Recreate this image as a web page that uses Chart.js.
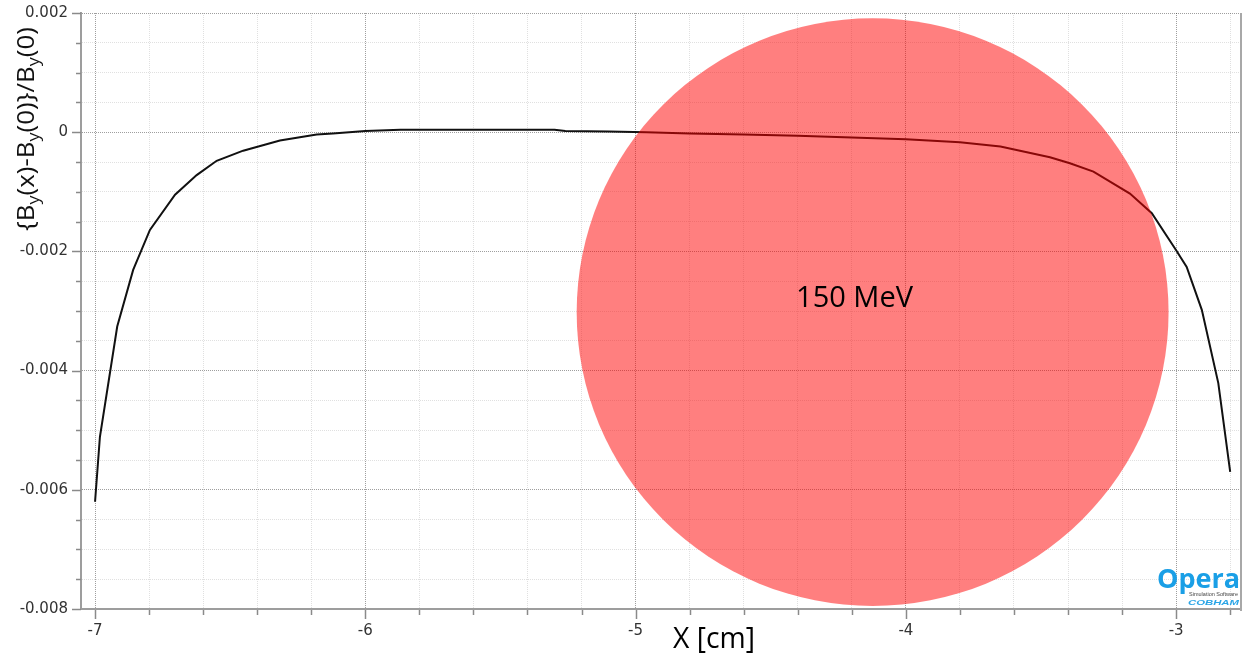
<!DOCTYPE html>
<html><head><meta charset="utf-8">
<script src="https://cdn.jsdelivr.net/npm/chart.js@4/dist/chart.umd.min.js"></script>
<style>html,body{margin:0;padding:0;background:#fff;overflow:hidden}#wrap{width:1247px;height:655px;position:relative}canvas{display:block}</style>
</head><body><div id="wrap"><canvas id="c" width="1247" height="655"></canvas></div>
<script>
// ---- data ----
const xValues = [-7.0, -6.982, -6.918, -6.859, -6.797, -6.704, -6.624, -6.55, -6.452, -6.316, -6.18, -6.12, -6.0, -5.87, -5.62, -5.3, -5.26, -5.1, -4.96, -4.8, -4.6, -4.4, -4.2, -4.0, -3.8, -3.65, -3.467, -3.393, -3.306, -3.171, -3.09, -3.0, -2.961, -2.905, -2.844, -2.8];
const yValues = [-0.0062, -0.00511, -0.00326, -0.00231, -0.00164, -0.00105, -0.00072, -0.00048, -0.00031, -0.00014, -0.00004, -0.00002, 0.00002, 0.00004, 0.00004, 0.00004, 0.00002, 0.00001, 0.0, -0.00002, -0.00004, -0.00006, -0.00009, -0.00012, -0.00017, -0.00024, -0.00042, -0.00052, -0.00066, -0.00103, -0.00136, -0.00198, -0.00226, -0.00298, -0.00421, -0.0057];
const xTickValues = [-7, -6.8, -6.6, -6.4, -6.2, -6, -5.8, -5.6, -5.4, -5.2, -5, -4.8, -4.6, -4.4, -4.2, -4, -3.8, -3.6, -3.4, -3.2, -3, -2.8];
const xMajorTicks = [-7, -6, -5, -4, -3];
const xMajorLabels = ['-7', '-6', '-5', '-4', '-3'];
const yTickValues = [0.002, 0.0015, 0.001, 0.0005, 0, -0.0005, -0.001, -0.0015, -0.002, -0.0025, -0.003, -0.0035, -0.004, -0.0045, -0.005, -0.0055, -0.006, -0.0065, -0.007, -0.0075, -0.008];
const yMajorTicks = [0.002, 0, -0.002, -0.004, -0.006, -0.008];
const yMajorLabels = ['0.002', '0', '-0.002', '-0.004', '-0.006', '-0.008'];
const circleCenter = [-4.123, -0.00302];
const circleRadius = [1.095, 0.00493];
const circleLabel = '150 MeV';
const circleLabelPos = [-4.19, -0.00293];
const xTitle = 'X [cm]';
const yTitleParts = [['{B', 0], ['y', 1], ['(x)-B', 0], ['y', 1], ['(0)}/B', 0], ['y', 1], ['(0)', 0]];

// ---- helpers ----
function findIdx(arr, v, tol) { for (let i = 0; i < arr.length; i++) if (Math.abs(arr[i] - v) < tol) return i; return -1; }
const isXMajor = v => findIdx(xMajorTicks, v, 1e-6) >= 0;
const isYMajor = v => findIdx(yMajorTicks, v, 1e-9) >= 0;

const points = xValues.map((x, i) => ({ x: x, y: yValues[i] }));

const decor = {
  id: 'decor',
  afterDatasetsDraw(chart) {
    const { ctx, scales: { x, y } } = chart;
    const cx = x.getPixelForValue(circleCenter[0]);
    const cy = y.getPixelForValue(circleCenter[1]);
    const rx = x.getPixelForValue(circleCenter[0] + circleRadius[0]) - cx;
    const ry = cy - y.getPixelForValue(circleCenter[1] + circleRadius[1]);
    ctx.save();
    ctx.fillStyle = 'rgba(255,0,0,0.5)';
    ctx.beginPath();
    ctx.ellipse(cx, cy, rx, ry, 0, 0, Math.PI * 2);
    ctx.fill();
    ctx.fillStyle = '#000';
    ctx.font = '29px "Open Sans"';
    ctx.textAlign = 'center';
    ctx.textBaseline = 'alphabetic';
    ctx.fillText(circleLabel, x.getPixelForValue(circleLabelPos[0]), y.getPixelForValue(circleLabelPos[1]));
    ctx.restore();
  },
  afterDraw(chart) {
    const { ctx, scales: { x, y }, chartArea: a } = chart;
    ctx.save();
    ctx.strokeStyle = '#a8a8a8';
    ctx.lineWidth = 2;
    ctx.beginPath(); ctx.moveTo(a.right, a.top); ctx.lineTo(a.right, a.bottom + 2); ctx.stroke();
    ctx.strokeStyle = '#8a8a8a';
    ctx.lineWidth = 1.5;
    xTickValues.forEach(v => {
      const px = Math.round(x.getPixelForValue(v)) + 0.5;
      const len = isXMajor(v) ? 9 : 5;
      ctx.beginPath(); ctx.moveTo(px, a.bottom + 1); ctx.lineTo(px, a.bottom + 1 + len); ctx.stroke();
    });
    yTickValues.forEach(v => {
      const py = Math.round(y.getPixelForValue(v)) + 0.5;
      const len = isYMajor(v) ? 9 : 5;
      ctx.beginPath(); ctx.moveTo(a.left, py); ctx.lineTo(a.left - len, py); ctx.stroke();
    });
    // X title
    ctx.fillStyle = '#000';
    ctx.textBaseline = 'alphabetic';
    ctx.textAlign = 'left';
    ctx.font = '28px "Open Sans"';
    const xw = ctx.measureText(xTitle).width;
    const xs = 82 / xw * 28;
    ctx.font = xs.toFixed(1) + 'px "Open Sans"';
    ctx.fillText(xTitle, 673, 648);
    // Y title with subscripts (compressed along its length)
    const mainF = 23, subF = 16;
    let total = 0;
    yTitleParts.forEach(([t, s]) => { ctx.font = (s ? subF : mainF) + 'px "Open Sans"'; total += ctx.measureText(t).width; });
    const k = 204 / total;
    ctx.save();
    ctx.translate(34, 231);
    ctx.rotate(-Math.PI / 2);
    ctx.scale(k, 1);
    ctx.fillStyle = '#111';
    let pos = 0;
    yTitleParts.forEach(([t, s]) => {
      ctx.font = (s ? subF : mainF) + 'px "Open Sans"';
      ctx.fillText(t, pos, s ? 5 : 0);
      pos += ctx.measureText(t).width;
    });
    ctx.restore();
    // Opera logo
    ctx.textAlign = 'right';
    ctx.fillStyle = '#1a9fe6';
    ctx.font = 'bold 27px "Open Sans"';
    ctx.fillText('Opera', 1240, 588);
    ctx.fillStyle = '#444';
    ctx.font = '5.5px "Liberation Sans"';
    ctx.fillText('Simulation Software', 1238, 596);
    ctx.fillStyle = '#2aa5e6';
    ctx.font = 'italic bold 8px "Liberation Sans"';
    const cw = ctx.measureText('COBHAM').width;
    ctx.save();
    ctx.translate(1188, 605);
    ctx.scale(51 / cw, 1);
    ctx.textAlign = 'left';
    ctx.fillText('COBHAM', 0, 0);
    ctx.restore();
    ctx.restore();
  }
};

const tickFont = { family: '"DejaVu Sans"', size: 15 };

new Chart(document.getElementById('c'), {
  type: 'line',
  data: {
    datasets: [{
      data: points,
      borderColor: '#111',
      borderWidth: 2,
      pointRadius: 0,
      tension: 0,
      fill: false
    }]
  },
  options: {
    responsive: false,
    animation: false,
    devicePixelRatio: 1,
    layout: { padding: { top: 13, right: 6, left: 0, bottom: 0 } },
    plugins: { legend: { display: false }, tooltip: { enabled: false }, title: { display: false } },
    scales: {
      x: {
        type: 'linear',
        min: -7.052,
        max: -2.76,
        afterBuildTicks: s => { s.ticks = xTickValues.map(v => ({ value: v })); },
        afterFit: s => { s.height = 46; },
        ticks: {
          autoSkip: false,
          maxRotation: 0,
          padding: 4,
          color: '#333',
          font: tickFont,
          callback: v => { const i = findIdx(xMajorTicks, v, 1e-6); return i >= 0 ? xMajorLabels[i] : ''; }
        },
        grid: {
          color: c => (c.tick && isXMajor(c.tick.value)) ? 'rgba(0,0,0,0.38)' : 'rgba(0,0,0,0.12)',
          lineWidth: 1,
          tickLength: 9,
          tickColor: 'rgba(0,0,0,0)'
        },
        border: { display: true, color: '#9d9d9d', width: 2, dash: [1, 1] }
      },
      y: {
        type: 'linear',
        min: -0.008,
        max: 0.002,
        afterBuildTicks: s => { s.ticks = yTickValues.map(v => ({ value: v })); },
        afterFit: s => { s.width = 81; },
        ticks: {
          autoSkip: false,
          padding: 4,
          color: '#333',
          font: tickFont,
          callback: v => { const i = findIdx(yMajorTicks, v, 1e-9); return i >= 0 ? yMajorLabels[i] : ''; }
        },
        grid: {
          color: c => (c.tick && isYMajor(c.tick.value)) ? 'rgba(0,0,0,0.38)' : 'rgba(0,0,0,0.12)',
          lineWidth: 1,
          tickLength: 9,
          tickColor: 'rgba(0,0,0,0)'
        },
        border: { display: true, color: '#9d9d9d', width: 2, dash: [1, 1] }
      }
    }
  },
  plugins: [decor]
});
</script>
</body></html>
